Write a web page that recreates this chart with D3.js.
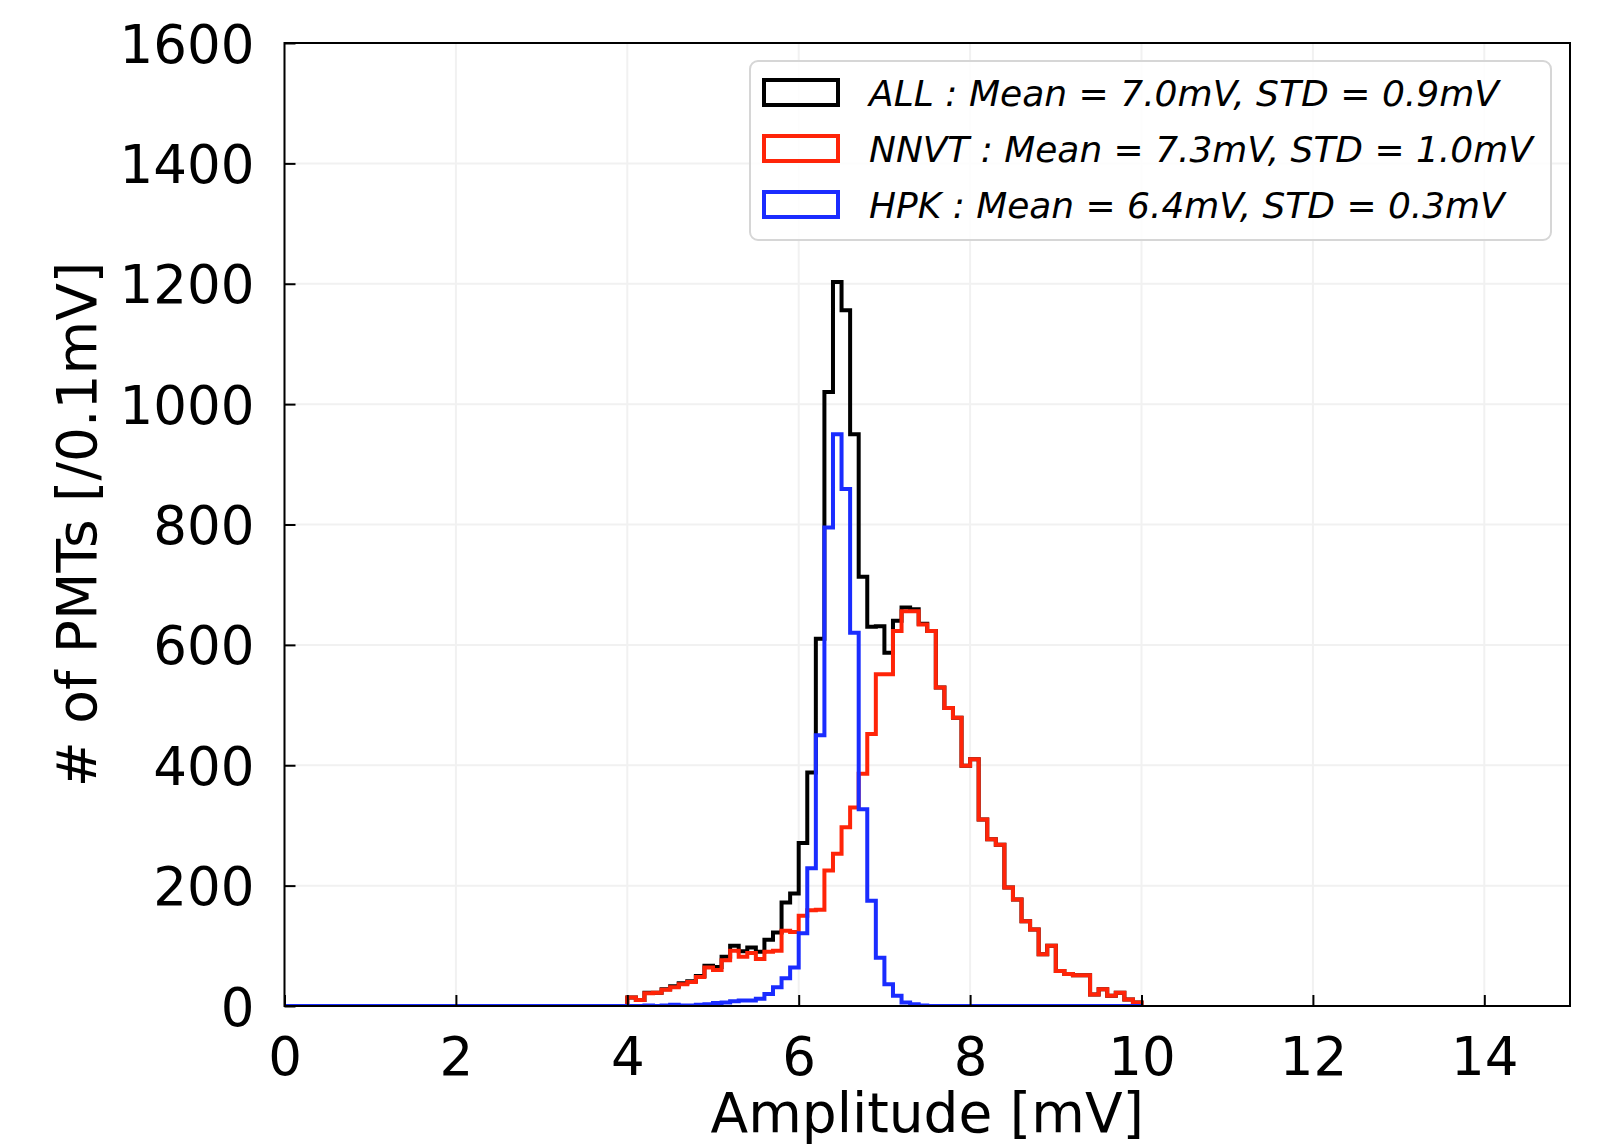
<!DOCTYPE html>
<html>
<head>
<meta charset="utf-8">
<script src="https://cdn.jsdelivr.net/npm/d3@7"></script>
<style>
  body { margin: 0; background: #fff; }
  text { font-family: "DejaVu Sans", sans-serif; fill: #000; }
  .leg text { font-style: italic; }
</style>
</head>
<body>
<div id="chart"></div>
<script>
// histogram bins of 0.1 mV, listed from 4.0 mV up to 9.9 mV (range 0-10, empty below 4.0)
const binWidth = 0.1;
const firstBin = 4.0;
const histRange = [0, 10];

const allCounts = [
  14, 10, 22, 22, 28, 33, 38, 41, 50, 67,
  65, 82, 100, 91, 97, 90, 110, 122, 172, 187,
  271, 388, 610, 1020, 1203, 1156, 950, 713, 630, 631,
  587, 640, 662, 659, 635, 623, 529, 495, 479, 399,
  410, 310, 277, 268, 197, 177, 141, 127, 86, 100,
  58, 53, 51, 51, 19, 28, 17, 22, 11, 6
];
const nnvtCounts = [
  14, 10, 21, 22, 27, 31, 36, 40, 48, 64,
  60, 76, 92, 82, 88, 78, 90, 92, 125, 123,
  150, 159, 160, 225, 253, 297, 330, 386, 452, 551,
  551, 623, 656, 656, 634, 623, 529, 495, 479, 399,
  410, 310, 277, 268, 197, 177, 141, 127, 86, 100,
  58, 53, 51, 51, 19, 28, 17, 22, 11, 6
];
const hpkCounts = [
  0, 0, 1, 0, 1, 2, 1, 1, 2, 3,
  5, 6, 8, 9, 9, 12, 20, 31, 46, 64,
  121, 229, 450, 795, 950, 859, 620, 327, 175, 80,
  36, 17, 6, 3, 1, 0, 0, 0, 0, 0,
  0, 0, 0, 0, 0, 0, 0, 0, 0, 0,
  0, 0, 0, 0, 0, 0, 0, 0, 0, 0
];

const seriesNames = ["ALL", "NNVT", "HPK"];
const seriesColors = ["#000000", "#ff2408", "#1a2cff"];
const legendLabels = [
  "ALL : Mean = 7.0mV, STD = 0.9mV",
  "NNVT : Mean = 7.3mV, STD = 1.0mV",
  "HPK : Mean = 6.4mV, STD = 0.3mV"
];

const xTicks = [0, 2, 4, 6, 8, 10, 12, 14];
const yTicks = [0, 200, 400, 600, 800, 1000, 1200, 1400, 1600];

const W = 1599, H = 1147;
const m = { left: 284.5, top: 43, right: 29, bottom: 141 };
const iw = W - m.left - m.right;
const ih = H - m.top - m.bottom;

const x = d3.scaleLinear().domain([0, 15]).range([0, iw]);
const y = d3.scaleLinear().domain([0, 1600]).range([ih, 0]);

const svg = d3.select("#chart").append("svg")
  .attr("width", W)
  .attr("height", H);

svg.append("rect").attr("width", W).attr("height", H).attr("fill", "#fff");

svg.append("defs").append("clipPath").attr("id", "plotclip")
  .append("rect").attr("width", iw).attr("height", ih);

const g = svg.append("g").attr("transform", `translate(${m.left},${m.top})`);

// faint grid
g.append("g").selectAll("line").data(xTicks).join("line")
  .attr("x1", d => x(d)).attr("x2", d => x(d))
  .attr("y1", 0).attr("y2", ih)
  .attr("stroke", "#f1f1f1").attr("stroke-width", 2);
g.append("g").selectAll("line").data(yTicks).join("line")
  .attr("x1", 0).attr("x2", iw)
  .attr("y1", d => y(d)).attr("y2", d => y(d))
  .attr("stroke", "#f1f1f1").attr("stroke-width", 2);

// step histograms
const stepLine = d3.line()
  .x(d => x(d[0]))
  .y(d => y(d[1]))
  .curve(d3.curveStepAfter);

function stepPoints(counts) {
  const pts = [[histRange[0], 0]];
  counts.forEach((c, i) => pts.push([firstBin + i * binWidth, c]));
  pts.push([histRange[1], 0]);
  return pts;
}

const allSeries = [allCounts, nnvtCounts, hpkCounts];
const plot = g.append("g").attr("clip-path", "url(#plotclip)");
allSeries.forEach((counts, i) => {
  plot.append("path")
    .attr("d", stepLine(stepPoints(counts)))
    .attr("fill", "none")
    .attr("stroke", seriesColors[i])
    .attr("stroke-width", 4)
    .attr("stroke-linejoin", "miter");
});

// axes with inward ticks
const xAxis = d3.axisBottom(x).tickValues(xTicks).tickFormat(d3.format("d"))
  .tickSizeInner(-11).tickSizeOuter(0).tickPadding(31);
const yAxis = d3.axisLeft(y).tickValues(yTicks).tickFormat(d3.format("d"))
  .tickSizeInner(-11).tickSizeOuter(0).tickPadding(30);

const gx = g.append("g").attr("transform", `translate(0,${ih})`).call(xAxis);
const gy = g.append("g").call(yAxis);
[gx, gy].forEach(a => {
  a.select(".domain").remove();
  a.selectAll(".tick line").attr("stroke", "#000").attr("stroke-width", 2);
  a.selectAll(".tick text").style("font-size", "53px").attr("fill", "#000");
});
gy.selectAll(".tick text").attr("dy", "0.36em");
gx.selectAll(".tick text").attr("dy", "0.71em");

// frame
g.append("rect")
  .attr("width", iw).attr("height", ih)
  .attr("fill", "none").attr("stroke", "#000").attr("stroke-width", 2);

// axis labels
svg.append("text")
  .attr("x", m.left + iw / 2)
  .attr("y", 1132)
  .attr("text-anchor", "middle")
  .style("font-size", "55px")
  .text("Amplitude [mV]");

svg.append("text")
  .attr("transform", `translate(96,${m.top + ih / 2}) rotate(-90)`)
  .attr("text-anchor", "middle")
  .style("font-size", "55px")
  .text("# of PMTs [/0.1mV]");

// legend
const leg = svg.append("g").attr("class", "leg");
leg.append("rect")
  .attr("x", 750).attr("y", 61)
  .attr("width", 801).attr("height", 179)
  .attr("rx", 8)
  .attr("fill", "#fff").attr("fill-opacity", 0.85)
  .attr("stroke", "#d6d6d6").attr("stroke-width", 2);

const legendTextWidths = [630, 664, 636];
seriesNames.forEach((name, i) => {
  const cy = 92 + i * 56;
  leg.append("rect")
    .attr("x", 764).attr("y", cy - 12)
    .attr("width", 74).attr("height", 25)
    .attr("fill", "none")
    .attr("stroke", seriesColors[i])
    .attr("stroke-width", 4);
  const t = leg.append("text")
    .attr("x", 869).attr("y", cy + 14)
    .style("font-size", "40px")
    .text(legendLabels[i]);
  // fit the text to the width it has in the picture
  const natural = t.node().getComputedTextLength();
  t.style("font-size", (40 * legendTextWidths[i] / natural).toFixed(2) + "px");
});
</script>
</body>
</html>
